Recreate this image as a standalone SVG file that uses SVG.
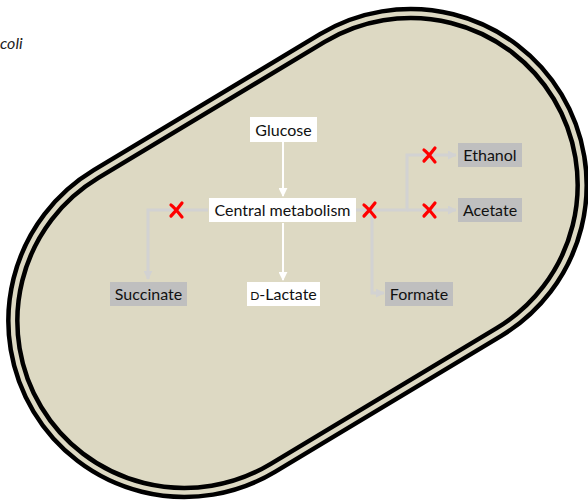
<svg xmlns="http://www.w3.org/2000/svg" width="588" height="502" viewBox="0 0 588 502">
<defs>
<style>
.lbl{font-family:Lato,"Liberation Sans",sans-serif;font-size:16px;fill:#111;text-anchor:middle}
.wbox{fill:#fff}
.gbox{fill:#bfbfbf}
.wline{stroke:#fff;stroke-width:2;fill:none}
.gline{stroke:#d2d2d2;stroke-width:3;fill:none}
.cell{fill:none;stroke:#000;stroke-width:4.5}
</style>
<marker id="wa" viewBox="0 0 10 10" refX="9" refY="5" markerWidth="4.5" markerHeight="4.5" markerUnits="strokeWidth" orient="auto"><path d="M0,0 L10,5 L0,10 z" fill="#fff"/></marker>
<marker id="ga" viewBox="0 0 10 10" refX="9" refY="5" markerWidth="3" markerHeight="3" markerUnits="strokeWidth" orient="auto"><path d="M0,0 L10,5 L0,10 z" fill="#d2d2d2"/></marker>
<g id="x-mark">
<path d="M-6,-5 C-3,-3 1,2 5,7" stroke="#f00" stroke-width="3.2" stroke-linecap="round" fill="none"/>
<path d="M5,-7 C2,-3 -2,2 -6,6" stroke="#f00" stroke-width="3.2" stroke-linecap="round" fill="none"/>
</g>
</defs>
<rect width="588" height="502" fill="#fff"/>
<text x="0" y="49" font-family="Lato,'Liberation Sans',sans-serif" font-size="16" font-style="italic" fill="#222">coli</text>
<g id="cell" transform="translate(297.5,253) rotate(-31)">
<rect x="-308" y="-176" width="616" height="352" rx="176" fill="#ddd9c3"/>
<rect class="cell" x="-308" y="-176" width="616" height="352" rx="176"/>
<rect class="cell" x="-299" y="-167" width="598" height="334" rx="167"/>
</g>
<g id="connectors">
<line class="wline" x1="283" y1="142" x2="283" y2="196" marker-end="url(#wa)"/>
<line class="wline" x1="283" y1="223" x2="283" y2="280" marker-end="url(#wa)"/>
<polyline class="gline" points="208,210 148,210 148,279" marker-end="url(#ga)"/>
<polyline class="gline" points="356,210 407,210 407,155 456,155" marker-end="url(#ga)"/>
<line class="gline" x1="407" y1="210" x2="456" y2="210" marker-end="url(#ga)"/>
<polyline class="gline" points="372,210 372,293 384,293" marker-end="url(#ga)"/>
</g>
<g id="glucose"><rect class="wbox" x="250" y="117" width="67" height="25"/><text class="lbl" x="283.5" y="135.5">Glucose</text></g>
<g id="central"><rect class="wbox" x="209" y="198" width="147" height="24"/><text class="lbl" x="282.5" y="215.5">Central metabolism</text></g>
<g id="lactate"><rect class="wbox" x="247" y="282" width="73" height="24"/><text class="lbl" x="283.5" y="299.5"><tspan font-size="12">D</tspan>-Lactate</text></g>
<g id="succinate"><rect class="gbox" x="110" y="282" width="77" height="24"/><text class="lbl" x="148.5" y="299.5">Succinate</text></g>
<g id="formate"><rect class="gbox" x="385" y="282" width="68" height="24"/><text class="lbl" x="419" y="299.5">Formate</text></g>
<g id="ethanol"><rect class="gbox" x="458" y="143" width="64" height="24"/><text class="lbl" x="490" y="160.5">Ethanol</text></g>
<g id="acetate"><rect class="gbox" x="458" y="198" width="64" height="24"/><text class="lbl" x="490" y="215.5">Acetate</text></g>
<g id="blocks">
<use href="#x-mark" x="177" y="210"/>
<use href="#x-mark" x="370" y="210"/>
<use href="#x-mark" x="430" y="155"/>
<use href="#x-mark" x="430" y="210"/>
</g>
</svg>
